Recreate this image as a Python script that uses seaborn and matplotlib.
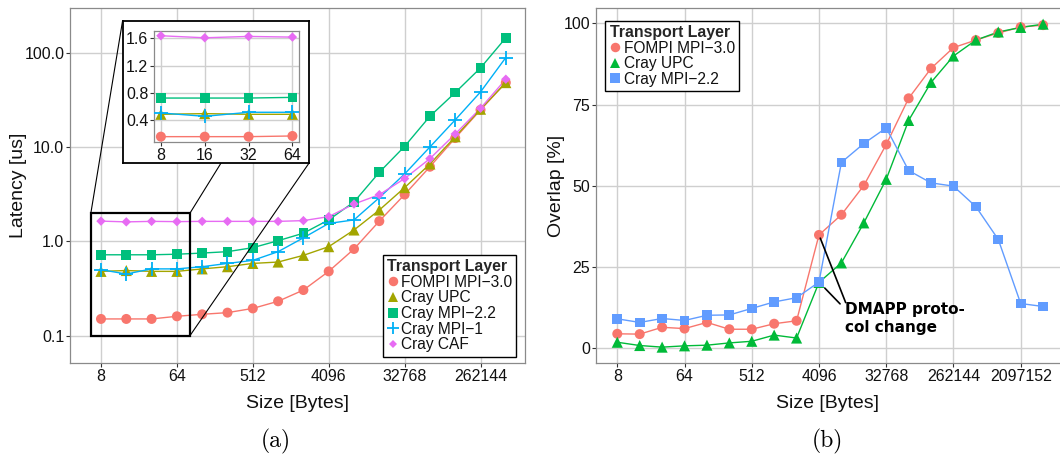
import matplotlib
matplotlib.use("Agg")
import matplotlib.pyplot as plt
import seaborn as sns
import pandas as pd
from matplotlib.patches import Rectangle, ConnectionPatch
from matplotlib.lines import Line2D
from matplotlib.ticker import NullLocator

# ---------------- data ----------------
size_a = [8, 16, 32, 64, 128, 256, 512, 1024, 2048, 4096, 8192, 16384,
          32768, 65536, 131072, 262144, 524288]
lat_fompi = [0.15, 0.15, 0.15, 0.16, 0.168, 0.175, 0.194, 0.231, 0.304, 0.48,
             0.83, 1.64, 3.14, 6.2, 12.5, 24.9, 48.5]
lat_upc = [0.48, 0.49, 0.48, 0.48, 0.51, 0.538, 0.583, 0.603, 0.71, 0.878,
           1.32, 2.15, 3.72, 6.63, 12.9, 25.3, 48.5]
lat_mpi22 = [0.72, 0.72, 0.72, 0.73, 0.751, 0.777, 0.857, 1.016, 1.22, 1.69,
             2.62, 5.41, 10.2, 21.3, 38.0, 69.5, 145.0]
lat_mpi1 = [0.50, 0.45, 0.51, 0.51, 0.538, 0.583, 0.628, 0.777, 1.09, 1.55,
            1.69, 2.91, 5.19, 10.05, 19.5, 38.6, 89.5]
lat_caf = [1.64, 1.61, 1.63, 1.62, 1.63, 1.63, 1.63, 1.63, 1.66, 1.83,
           2.49, 3.13, 4.64, 7.56, 13.8, 25.9, 52.7]

size_b = [8, 16, 32, 64, 128, 256, 512, 1024, 2048, 4096, 8192, 16384,
          32768, 65536, 131072, 262144, 524288, 1048576, 2097152, 4194304]
ov_fompi = [4.5, 4.4, 6.5, 6.1, 8.0, 5.9, 5.9, 7.6, 8.5, 34.9, 41.1, 50.1,
            62.7, 76.9, 86.1, 92.5, 94.8, 97.0, 98.8, 99.4]
ov_upc = [1.9, 0.9, 0.4, 0.8, 1.0, 1.7, 2.2, 4.1, 3.2, 20.3, 26.3, 38.6,
          52.0, 70.1, 81.8, 89.9, 94.8, 97.3, 98.7, 99.7]
ov_mpi22 = [9.1, 8.0, 9.2, 8.6, 10.2, 10.3, 12.3, 14.3, 15.6, 20.4, 57.2, 63.0,
            67.8, 54.7, 50.9, 49.9, 43.6, 33.5, 13.8, 12.9]

inset_sizes = [8, 16, 32, 64]
xticks_a = [8, 64, 512, 4096, 32768, 262144]
yticks_a = [0.1, 1, 10, 100]
yticklabels_a = ["0.1", "1.0", "10.0", "100.0"]
xticks_b = [8, 64, 512, 4096, 32768, 262144, 2097152]
yticks_b = [0, 25, 50, 75, 100]
xticks_i = [8, 16, 32, 64]
yticks_i = [0.4, 0.8, 1.2, 1.6]

labels_a = ["FOMPI MPI\u22123.0", "Cray UPC", "Cray MPI\u22122.2", "Cray MPI\u22121", "Cray CAF"]
labels_b = ["FOMPI MPI\u22123.0", "Cray UPC", "Cray MPI\u22122.2"]

# ---------------- style ----------------
sns.set_theme(style="white")
plt.rcParams["font.family"] = ["Liberation Sans", "DejaVu Sans"]
plt.rcParams["axes.unicode_minus"] = True

W, H = 1060, 457
fig = plt.figure(figsize=(W / 100, H / 100), dpi=100)
fig.patch.set_facecolor("white")

GRID = "#cfcfcf"
SPINE = "#8a8a8a"
TXT = "#111111"

styles_a = [  # color, marker, size(pt), edge width
    ("#F8766D", "o", 7.2, 0),
    ("#A3A500", "^", 8.0, 0),
    ("#00BF7D", "s", 7.0, 0),
    ("#00B0F6", "+", 9.5, 1.3),
    ("#E76BF3", "D", 4.8, 0),
]
styles_b = [
    ("#F8766D", "o", 7.2, 0),
    ("#00BA38", "^", 8.0, 0),
    ("#619CFF", "s", 7.0, 0),
]


def style_axes(ax):
    ax.set_facecolor("white")
    for s in ax.spines.values():
        s.set_color(SPINE)
        s.set_linewidth(0.9)
        s.set_visible(True)
    ax.grid(True, which="major", color=GRID, lw=1.0)
    ax.set_axisbelow(True)
    ax.tick_params(axis="both", which="major", length=2.8, width=0.8, color="#333333",
                   labelsize=11.5, labelcolor=TXT, pad=1.5, direction="out",
                   bottom=True, left=True)
    ax.xaxis.set_minor_locator(NullLocator())
    ax.yaxis.set_minor_locator(NullLocator())


def draw_series(ax, xs, ys, st, lw=1.0):
    c, m, ms, mew = st
    sns.lineplot(x=xs, y=ys, ax=ax, color=c, lw=lw, estimator=None, sort=False,
                 legend=False, zorder=2)
    if m == "+":
        sns.scatterplot(x=xs, y=ys, ax=ax, color=c, marker=m, s=ms ** 2,
                        linewidth=mew, legend=False, zorder=3)
    else:
        sns.scatterplot(x=xs, y=ys, ax=ax, color=c, marker=m, s=ms ** 2,
                        linewidth=0, edgecolor="none", legend=False, zorder=3)


def make_handles(styles):
    hs = []
    for c, m, ms, mew in styles:
        hs.append(Line2D([], [], ls="none", marker=m, color=c, ms=ms * 0.95,
                         mew=mew if m == "+" else 0, mfc=c, mec=c))
    return hs


def add_legend(ax, styles, labels, x0, y0):
    leg = ax.legend(make_handles(styles), labels, title="Transport Layer",
                    loc="upper left", bbox_to_anchor=(x0 / W, 1 - y0 / H),
                    bbox_transform=fig.transFigure, frameon=True, fancybox=False,
                    edgecolor="black", framealpha=1, fontsize=11.2,
                    title_fontproperties={"weight": "bold", "size": 11.4},
                    alignment="left", borderpad=0.27, labelspacing=0.04,
                    handlelength=0.75, handletextpad=0.15, borderaxespad=0)
    leg.get_frame().set_linewidth(1.0)
    for t in leg.get_texts():
        t.set_color(TXT)
    return leg


# ---------------- panel (a) ----------------
axA = fig.add_axes([70.3 / W, 1 - 363.3 / H, 455 / W, 355.3 / H], zorder=0)
axA.set_xscale("log", base=2)
axA.set_yscale("log")
for ys, st in zip([lat_fompi, lat_upc, lat_mpi22, lat_mpi1, lat_caf], styles_a):
    draw_series(axA, size_a, ys, st)
axA.set_xlim(2 ** 1.787, 2 ** 19.77)
axA.set_ylim(10 ** -1.295, 10 ** 2.478)
style_axes(axA)
axA.set_xticks(xticks_a)
axA.set_xticklabels([str(v) for v in xticks_a])
axA.set_yticks(yticks_a)
axA.set_yticklabels(yticklabels_a)
axA.xaxis.set_minor_locator(NullLocator())
axA.yaxis.set_minor_locator(NullLocator())
axA.set_xlabel("Size [Bytes]", fontsize=14, color=TXT, va="center")
axA.xaxis.set_label_coords(0.5, -(403 - 363.3) / 355.3)
axA.set_ylabel("Latency [us]", fontsize=14, color=TXT, va="center")
axA.yaxis.set_label_coords((18 - 70.3) / 455, 0.5)
add_legend(axA, styles_a, labels_a, 382.7, 255)

# zoom rectangle
rx0, rx1, ry0, ry1 = 2 ** 2.6, 2 ** 6.52, 0.1, 2.0
axA.add_patch(Rectangle((rx0, ry0), rx1 - rx0, ry1 - ry0, fill=False,
                        ec="black", lw=1.6, zorder=5))

# inset frame box
axBox = fig.add_axes([122.6 / W, 1 - 162.7 / H, 186.7 / W, 142 / H], zorder=2)
axBox.set_xticks([])
axBox.set_yticks([])
axBox.set_facecolor("white")
for s in axBox.spines.values():
    s.set_color("black")
    s.set_linewidth(1.3)

# inset plot
axI = fig.add_axes([154.3 / W, 1 - 141.7 / H, 144.7 / W, 111 / H], zorder=3)
axI.set_xscale("log", base=2)
for ys, st in zip([lat_fompi, lat_upc, lat_mpi22, lat_mpi1, lat_caf], styles_a):
    draw_series(axI, inset_sizes, ys[:4], st)
axI.set_xlim(2 ** 2.85, 2 ** 6.15)
axI.set_ylim(0.0755, 1.7145)
style_axes(axI)
axI.set_xticks(xticks_i)
axI.set_xticklabels([str(v) for v in xticks_i])
axI.set_yticks(yticks_i)
axI.set_yticklabels([f"{v:.1f}" for v in yticks_i])
axI.xaxis.set_minor_locator(NullLocator())
axI.set_xlabel("")
axI.set_ylabel("")

# connector lines
for (xa, ya), (xb, yb) in [((rx0, ry1), (0, 1)), ((rx1, ry1), (1, 1)), ((rx1, ry0), (1, 0))]:
    con = ConnectionPatch(xyA=(xa, ya), coordsA=axA.transData,
                          xyB=(xb, yb), coordsB=axBox.transAxes,
                          color="black", lw=0.8, zorder=1)
    fig.add_artist(con)

# ---------------- panel (b) ----------------
axB = fig.add_axes([596 / W, 1 - 363.3 / H, 468.4 / W, 355.3 / H], zorder=0)
axB.set_xscale("log", base=2)
for ys, st in zip([ov_fompi, ov_upc, ov_mpi22], styles_b):
    draw_series(axB, size_b, ys, st)
axB.set_xlim(2 ** 2.05, 2 ** 22.95)
axB.set_ylim(-4.57, 104.67)
style_axes(axB)
axB.set_xticks(xticks_b)
axB.set_xticklabels([str(v) for v in xticks_b])
axB.set_yticks(yticks_b)
axB.set_yticklabels([str(v) for v in yticks_b])
axB.xaxis.set_minor_locator(NullLocator())
axB.set_xlabel("Size [Bytes]", fontsize=14, color=TXT, va="center")
axB.xaxis.set_label_coords((827.5 - 596) / 468.4, -(403 - 363.3) / 355.3)
axB.set_ylabel("Overlap [%]", fontsize=14, color=TXT, va="center")
axB.yaxis.set_label_coords((556.7 - 596) / 468.4, 0.5)
add_legend(axB, styles_b, labels_b, 605.3, 20.7)

# annotation
axB.text(2 ** 13.16, 14.2, "DMAPP proto-\ncol change", fontsize=11,
         fontweight="bold", family="DejaVu Sans", ha="left", va="top",
         linespacing=1.25, color="black", zorder=6)
axB.annotate("", xy=(4096, ov_fompi[9]), xytext=(2 ** 13.19, 14.1),
             arrowprops=dict(arrowstyle="-", lw=1.2, color="black",
                             shrinkA=0, shrinkB=2.5), zorder=6)
axB.annotate("", xy=(4096, ov_mpi22[9]), xytext=(2 ** 12.94, 13.7),
             arrowprops=dict(arrowstyle="-", lw=1.2, color="black",
                             shrinkA=0, shrinkB=6), zorder=6)

# captions
fig.text(276 / W, 1 - 441 / H, "(a)", family="cmr10", fontsize=17,
         ha="center", va="center", color="black")
fig.text(827.5 / W, 1 - 441 / H, "(b)", family="cmr10", fontsize=17,
         ha="center", va="center", color="black")

fig.savefig("out.png", dpi=100, facecolor="white")
